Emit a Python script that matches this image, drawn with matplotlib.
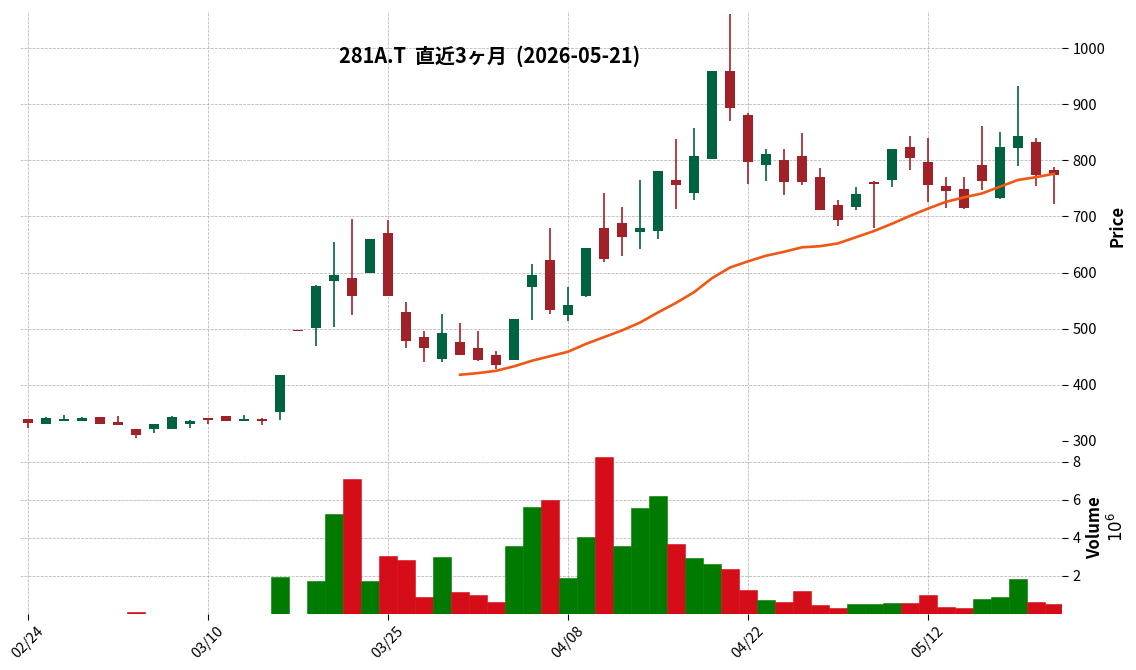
import matplotlib
matplotlib.use("Agg")
import matplotlib.pyplot as plt

plt.rcParams['font.family'] = ['Noto Sans CJK JP', 'DejaVu Sans']

title = "281A.T  直近3ヶ月  (2026-05-21)"

dates = ["02/24", "02/25", "02/26", "02/27", "03/02", "03/03", "03/04",
         "03/05", "03/06", "03/09", "03/10", "03/11", "03/12", "03/13",
         "03/16", "03/17", "03/18", "03/19", "03/23", "03/24", "03/25",
         "03/26", "03/27", "03/30", "03/31", "04/01", "04/02", "04/03",
         "04/06", "04/07", "04/08", "04/09", "04/10", "04/13", "04/14",
         "04/15", "04/16", "04/17", "04/20", "04/21", "04/22", "04/23",
         "04/24", "04/27", "04/28", "04/30", "05/01", "05/07", "05/08",
         "05/11", "05/12", "05/13", "05/14", "05/15", "05/18", "05/19",
         "05/20", "05/21"]

opens = [339, 330, 335, 335, 343, 333, 321, 321, 322, 331, 341, 344, 335,
         339, 351, 497, 502, 585, 590, 599, 671, 529, 486, 446, 476, 465,
         454, 444, 575, 623, 525, 559, 680, 688, 672, 674, 765, 741, 803,
         959, 881, 791, 801, 808, 770, 720, 716, 762, 765, 824, 797, 755,
         749, 792, 733, 822, 833, 783]
highs = [339, 342, 346, 342, 343, 344, 321, 330, 344, 338, 341, 345, 346,
         341, 418, 497, 578, 655, 696, 659, 694, 548, 496, 527, 511, 496,
         461, 517, 616, 680, 574, 643, 742, 717, 765, 781, 838, 857, 959,
         1060, 884, 821, 821, 848, 786, 730, 752, 764, 820, 843, 839, 771,
         771, 861, 850, 932, 840, 788]
lows = [324, 330, 335, 335, 331, 328, 305, 314, 322, 324, 331, 335, 335,
        328, 338, 496, 470, 503, 525, 599, 558, 465, 441, 441, 454, 442,
        429, 444, 516, 527, 514, 556, 619, 630, 642, 660, 713, 730, 803,
        870, 757, 764, 738, 756, 712, 683, 711, 680, 753, 782, 726, 715,
        713, 748, 731, 789, 754, 722]
closes = [332, 341, 339, 341, 331, 328, 310, 330, 343, 335, 337, 335, 339,
          335, 417, 496, 577, 595, 558, 659, 558, 478, 466, 492, 454, 444,
          435, 517, 595, 533, 543, 643, 625, 663, 680, 781, 756, 808, 959,
          894, 797, 812, 762, 762, 712, 693, 740, 757, 820, 805, 756, 746,
          715, 764, 824, 843, 774, 773]

# volume in millions of shares
volumes = [0.01, 0.01, 0.01, 0.01, 0.01, 0.01, 0.09, 0.01, 0.01, 0.01,
           0.01, 0.01, 0.01, 0.01, 1.95, 0.0, 1.74, 5.26, 7.1, 1.74, 3.05,
           2.84, 0.89, 3.0, 1.16, 1.0, 0.63, 3.58, 5.63, 6.0, 1.89, 4.05,
           8.26, 3.58, 5.58, 6.21, 3.68, 2.95, 2.63, 2.37, 1.26, 0.74, 0.63,
           1.21, 0.47, 0.32, 0.53, 0.53, 0.58, 0.58, 1.0, 0.37, 0.32, 0.79,
           0.89, 1.84, 0.63, 0.53]

# 25-day moving average, starting at the 25th session
ma_start = 24
ma25 = [418, 421, 425, 433, 443, 451, 459, 473, 485, 497, 511, 529, 546,
        565, 590, 609, 620, 630, 637, 645, 647, 652, 663, 674, 687, 701,
        714, 726, 734, 741, 753, 765, 770, 776]

price_ticks = [300, 400, 500, 600, 700, 800, 900, 1000]
vol_ticks = [2, 4, 6, 8]
date_ticks = [0, 10, 20, 30, 40, 50]

UP, DOWN = '#006340', '#a02128'
VUP, VDOWN = '#007a00', '#d50d18'
MA_COLOR = '#ef5714'
GRID = dict(color='#b4b4b4', linestyle='--', linewidth=0.55)


def style_axis(ax):
    for s in ax.spines.values():
        s.set_visible(False)
    ax.yaxis.tick_right()
    ax.yaxis.set_label_position('right')
    ax.tick_params(axis='both', labelsize=10.5, length=4, width=0.8)
    ax.grid(True, **GRID)
    ax.set_axisbelow(True)


def main():
    fig = plt.figure(figsize=(11.36, 6.70), dpi=100)
    left, width = 20 / 1136, 1042 / 1136
    ax = fig.add_axes([left, 1 - 441 / 670, width, 430 / 670])
    axv = fig.add_axes([left, 1 - 614 / 670, width, 173 / 670], sharex=ax)

    x = list(range(len(dates)))
    body_col = [UP if c > o else DOWN for o, c in zip(opens, closes)]
    bottoms = [min(o, c) for o, c in zip(opens, closes)]
    heights = [max(abs(c - o), 1.5) for o, c in zip(opens, closes)]

    ax.vlines(x, lows, highs, colors=body_col, linewidth=1.2, zorder=2)
    ax.bar(x, heights, bottom=bottoms, width=0.6, color=body_col,
           linewidth=0, zorder=3)
    ax.plot(x[ma_start:], ma25, color=MA_COLOR, linewidth=1.9, zorder=4)

    vol_col = [VUP] + [VUP if closes[i] > closes[i - 1] else VDOWN
                       for i in range(1, len(closes))]
    axv.bar(x, volumes, width=1.0, color=vol_col, edgecolor=vol_col,
            linewidth=0.4, zorder=3)

    style_axis(ax)
    style_axis(axv)

    ax.set_xlim(-0.45, len(dates) - 0.55)
    ax.set_ylim(300, 1066)
    ax.set_yticks(price_ticks)
    ax.set_yticklabels([str(t) for t in price_ticks])
    ax.set_ylabel("Price", fontsize=12, fontweight='bold', labelpad=2)
    ax.tick_params(axis='x', bottom=False, labelbottom=False)

    axv.set_ylim(0, 9.1)
    axv.set_yticks(vol_ticks)
    axv.set_yticklabels([str(t) for t in vol_ticks])
    axv.set_ylabel("Volume\n$10^{6}$", fontsize=12, fontweight='bold',
                   labelpad=4)
    axv.set_xticks(date_ticks)
    axv.set_xticklabels([dates[i] for i in date_ticks], rotation=45)

    fig.text(490 / 1136, 1 - 56 / 670, title, ha='center', va='center',
             fontsize=14.4, fontweight='bold')

    fig.savefig("out.png", dpi=100)


if __name__ == "__main__":
    main()
